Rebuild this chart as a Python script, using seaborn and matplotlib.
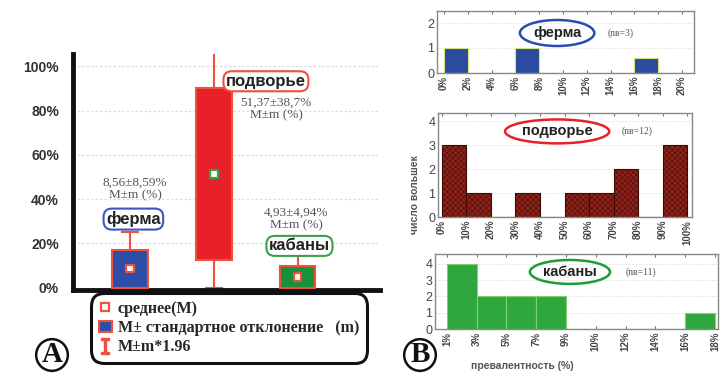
import numpy as np
import pandas as pd
import matplotlib
matplotlib.use("Agg")
import matplotlib.pyplot as plt
import seaborn as sns
from matplotlib.lines import Line2D
from matplotlib.patches import Patch

# ---------------- data ----------------
groups = ["ферма", "подворье", "кабаны"]
means = [8.56, 51.37, 4.93]
sds = [8.59, 38.7, 4.94]
group_colors = ["#2c4ea6", "#e8202a", "#17913a"]
mean_edge = ["#f0503c", "#3aa04a", "#f0503c"]
a_yticks = [0, 20, 40, 60, 80, 100]
a_ticklabels = ["0%", "20%", "40%", "60%", "80%", "100%"]
annot_texts = ["8,56±8,59%\nM±m (%)", "51,37±38,7%\nM±m (%)", "4,93±4,94%\nM±m (%)"]

ferma_x = [1, 7, 17]
ferma_counts = [1, 1, 0.6]
ferma_edges = list(range(0, 22, 2))
ferma_labels = ["0%", "2%", "4%", "6%", "8%", "10%", "12%", "14%", "16%", "18%", "20%"]

podv_x = [5, 15, 25, 35, 45, 55, 65, 75, 85, 95]
podv_counts = [3, 1, 0, 1, 0, 1, 1, 2, 0, 3]
podv_edges = list(range(0, 110, 10))
podv_labels = ["0%", "10%", "20%", "30%", "40%", "50%", "60%", "70%", "80%", "90%", "100%"]

kab_x = [0.5, 1.5, 2.5, 3.5, 4.5, 5.5, 6.5, 7.5, 8.5]
kab_counts = [4, 2, 2, 2, 0, 0, 0, 0, 1]
kab_edges = list(range(0, 10))
kab_labels = ["1%", "3%", "5%", "7%", "9%", "10%", "12%", "14%", "16%", "18%"]

# ---------------- style ----------------
sns.set_style("white")
plt.rcParams["font.family"] = ["Liberation Sans", "DejaVu Sans"]
plt.rcParams["hatch.color"] = "#4a0f0a"
plt.rcParams["hatch.linewidth"] = 0.35
SERIF = ["Liberation Serif", "DejaVu Serif"]

W, H = 722, 378
fig = plt.figure(figsize=(W / 100, H / 100), dpi=100)


def rect(x0, y0, x1, y1):
    return [x0 / W, 1 - y1 / H, (x1 - x0) / W, (y1 - y0) / H]


# ---------------- panel A ----------------
axA = fig.add_axes(rect(73, 54, 380, 290))
lows = [max(0.0, m - s) for m, s in zip(means, sds)]
highs = [m + s for m, s in zip(means, sds)]
dfA = pd.DataFrame({"group": groups, "height": np.array(highs) - np.array(lows)})

err_lo = [m - max(0.0, m - 1.96 * s) for m, s in zip(means, sds)]
err_hi = [1.96 * s for s in sds]
axA.errorbar(np.arange(3), means, yerr=[err_lo, err_hi], fmt="none",
             ecolor="#f0503c", elinewidth=1.5, capsize=6.5, capthick=1.5, zorder=1)

sns.barplot(data=dfA, x="group", y="height", bottom=lows, width=0.42,
            color="#888888", edgecolor="#f0503c", linewidth=1.5, zorder=3,
            ax=axA, errorbar=None)
for p, c in zip(axA.patches, group_colors):
    p.set_facecolor(c)

sns.scatterplot(x=np.arange(3), y=means, marker="s", s=28, color="white",
                edgecolor=mean_edge, linewidth=1.6, zorder=6, ax=axA, legend=False)

leg_old = axA.get_legend()
if leg_old is not None:
    leg_old.remove()

axA.set_xlim(-0.68, 2.98)
axA.set_ylim(-1, 105.5)
axA.set_yticks(a_yticks)
axA.set_yticklabels(a_ticklabels, fontweight="bold", fontsize=10, color="#333333")
axA.set_xticks([])
axA.set_xlabel("")
axA.set_ylabel("")
axA.tick_params(axis="y", length=0, pad=10)
for y in a_yticks[1:]:
    axA.axhline(y, color="#d8d8d8", lw=0.8, ls=(0, (2, 2)), zorder=0)
for s in ["top", "right"]:
    axA.spines[s].set_visible(False)
for s in ["left", "bottom"]:
    axA.spines[s].set_linewidth(3.5)
    axA.spines[s].set_color("#111111")

ann_kw = dict(ha="center", va="center", fontsize=9.5, family=SERIF, color="#555555", linespacing=1.05)
axA.text(0.06, 44.5, annot_texts[0], **ann_kw)
axA.text(1.74, 80.8, annot_texts[1], **ann_kw)
axA.text(1.98, 31.0, annot_texts[2], **ann_kw)

box_kw = dict(ha="center", va="center", fontsize=12, fontweight="bold", color="#222222", zorder=8)
axA.text(0.04, 31.0, groups[0], bbox=dict(boxstyle="round,pad=0.15,rounding_size=0.5",
                                            fc="white", ec="#3d56c0", lw=1.5), **box_kw)
axA.text(1.62, 93.2, groups[1], bbox=dict(boxstyle="round,pad=0.15,rounding_size=0.5",
                                            fc="white", ec="#f0503c", lw=1.5), **box_kw)
axA.text(2.02, 18.9, groups[2], bbox=dict(boxstyle="round,pad=0.15,rounding_size=0.5",
                                            fc="white", ec="#3aa04a", lw=1.5), **box_kw)

# legend
h1 = Line2D([], [], ls="none", marker="s", ms=6, mfc="white", mec="#f0503c", mew=1.6)
h2 = Patch(facecolor="#2c4ea6", edgecolor="#f0503c", lw=1.5)
h3 = Line2D([], [], ls="none", marker="$\\mathtt{I}$", ms=11, color="#f0503c")
leg = fig.legend([h1, h2, h3],
                 ["среднее(M)", "M± стандартное отклонение   (m)", "M±m*1.96"],
                 loc="upper left", bbox_to_anchor=(94 / W, 1 - 296 / H),
                 prop=dict(family=SERIF, weight="bold", size=11.5),
                 handlelength=0.8, handletextpad=0.4, labelspacing=0.2,
                 borderpad=0.3, borderaxespad=0, fancybox=True, framealpha=1)
fr = leg.get_frame()
fr.set_edgecolor("#111111")
fr.set_linewidth(2.2)
fr.set_boxstyle("round,pad=0.2,rounding_size=0.8")

fig.text(52 / W, 1 - 355 / H, "A", ha="center", va="center", fontsize=21,
         fontweight="bold", family=SERIF, color="#111111",
         bbox=dict(boxstyle="circle,pad=0.08", fc="white", ec="#111111", lw=1.8))

# ---------------- panel B ----------------
def style_hist(ax, xlim, ylim, yticks, xticks, xlabels):
    ax.set_xlim(*xlim)
    ax.set_ylim(*ylim)
    ax.set_yticks(yticks)
    ax.set_yticklabels([str(v) for v in yticks], fontsize=9, color="#444444")
    ax.set_xticks(xticks)
    ax.set_xticklabels(xlabels, rotation=90, fontsize=7, fontweight="bold", color="#444444")
    ax.set_xlabel("")
    ax.set_ylabel("")
    ax.tick_params(axis="both", direction="in", length=2, pad=2, top=True, bottom=True,
                   color="#777777")
    for s in ax.spines.values():
        s.set_color("#888888")
        s.set_linewidth(1.0)
    for y in yticks[1:]:
        ax.axhline(y, color="#dddddd", lw=0.6, ls=(0, (2, 2)), zorder=0)


axB1 = fig.add_axes(rect(437, 11, 694, 73))
sns.histplot(x=ferma_x, weights=ferma_counts, bins=ferma_edges, ax=axB1,
             color="#2b4ba0", edgecolor="#d8e07a", linewidth=0.8, alpha=1, zorder=2)
style_hist(axB1, (-0.59, 21.0), (0, 2.48), [0, 1, 2], ferma_edges, ferma_labels)
axB1.text(9.5, 1.6, "ферма", ha="center", va="center", fontsize=10.5, fontweight="bold",
          color="#222222", bbox=dict(boxstyle="ellipse,pad=0.15", fc="none", ec="#2b4bb0", lw=1.8))
axB1.text(14.8, 1.6, "(nв=3)", ha="center", va="center", fontsize=7, family=SERIF, color="#555555")

axB2 = fig.add_axes(rect(438, 113, 692, 217))
sns.histplot(x=podv_x, weights=podv_counts, bins=podv_edges, ax=axB2,
             color="#8e2219", edgecolor="#3a0a06", linewidth=0.8, alpha=1, zorder=2)
for p in axB2.patches:
    p.set_hatch("xxxxxx")
style_hist(axB2, (-1.6, 102), (0, 4.35), [0, 1, 2, 3, 4], podv_edges, podv_labels)
axB2.text(47, 3.58, "подворье", ha="center", va="center", fontsize=10.5, fontweight="bold",
          color="#222222", bbox=dict(boxstyle="ellipse,pad=0.1", fc="none", ec="#e8202a", lw=1.8))
axB2.text(79.6, 3.58, "(nв=12)", ha="center", va="center", fontsize=7, family=SERIF, color="#555555")

axB3 = fig.add_axes(rect(435, 254, 718, 329))
sns.histplot(x=kab_x, weights=kab_counts, bins=kab_edges, ax=axB3,
             color="#2ea83e", edgecolor="#7fd36a", linewidth=0.8, alpha=1, zorder=2)
style_hist(axB3, (-0.4, 9.1), (0, 4.6), [0, 1, 2, 3, 4], list(range(10)), kab_labels)
axB3.text(4.13, 3.5, "кабаны", ha="center", va="center", fontsize=10.5, fontweight="bold",
          color="#222222", bbox=dict(boxstyle="ellipse,pad=0.1", fc="none", ec="#1f9a3a", lw=1.8))
axB3.text(6.5, 3.5, "(nв=11)", ha="center", va="center", fontsize=7, family=SERIF, color="#555555")

fig.text(415 / W, 1 - 195 / H, "число вольшек", rotation=90, ha="center", va="center",
         fontsize=7.5, fontweight="bold", color="#555555")
fig.text(522 / W, 1 - 366 / H, "превалентность (%)", ha="center", va="center",
         fontsize=7.5, fontweight="bold", color="#555555")

fig.text(420 / W, 1 - 355 / H, "B", ha="center", va="center", fontsize=21,
         fontweight="bold", family=SERIF, color="#111111",
         bbox=dict(boxstyle="circle,pad=0.08", fc="white", ec="#111111", lw=1.8))

fig.savefig("out.png", dpi=100, facecolor="white")
